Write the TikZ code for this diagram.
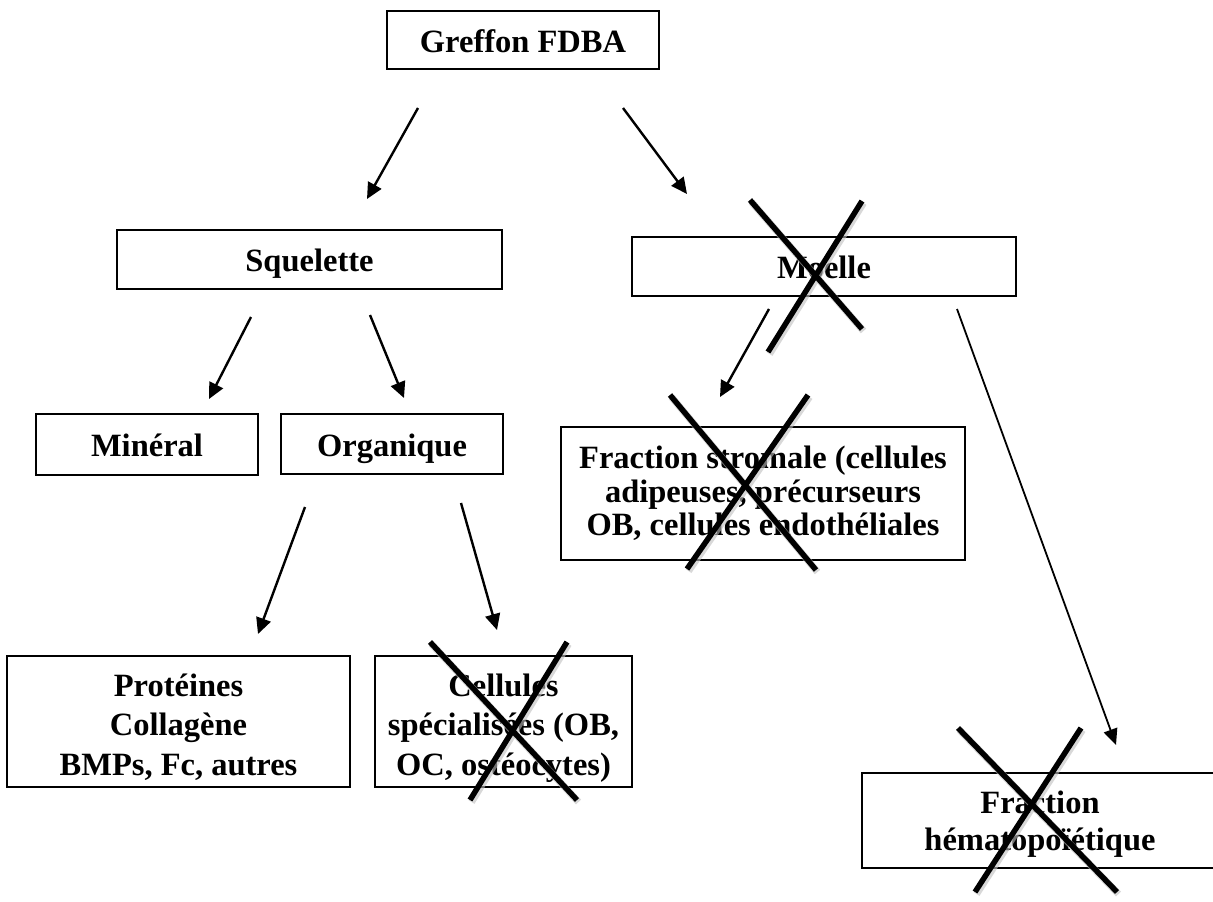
\documentclass[tikz,border=0pt]{standalone}
\usepackage{fontspec}
\setmainfont{Liberation Serif}
\usetikzlibrary{arrows.meta}
\begin{document}
\begin{tikzpicture}[x=1pt,y=-1pt,
  box/.style={draw=black, line width=2.4pt, inner sep=0pt, align=center,
    font=\fontsize{32.5}{33.5}\selectfont\bfseries},
  oneline/.style={text height=28pt, text depth=4pt},
  tallbox/.style={font=\fontsize{32.5}{39.5}\selectfont\bfseries, text height=115pt, text depth=8pt},
  hemabox/.style={font=\fontsize{32.5}{37}\selectfont\bfseries, text height=66pt, text depth=7pt},
  conn/.style={line width=2.4pt, -{Triangle[length=16pt,width=15pt]}},
  thinconn/.style={line width=1.8pt, -{Triangle[length=16pt,width=14pt]}},
  crossline/.style={line width=5.5pt, black},
  crossshadow/.style={line width=7pt, black!25, opacity=0.6}]
\useasboundingbox (0,0) rectangle (1213,902);
\fill[white] (0,0) rectangle (1213,902);

\node[box, oneline, minimum width=272pt, minimum height=58pt] (greffon) at (523,40) {Greffon FDBA};
\node[box, oneline, minimum width=385pt, minimum height=59pt] (squelette) at (309.5,259.5) {Squelette};
\node[box, oneline, minimum width=384pt, minimum height=59pt] (moelle) at (824,266.5) {Moelle};
\node[box, oneline, minimum width=222pt, minimum height=61pt] (mineral) at (147,444.5) {Minéral};
\node[box, oneline, minimum width=222pt, minimum height=60pt] (organique) at (392,444) {Organique};
\node[box, minimum width=404pt, minimum height=133pt] (stromale) at (763,493.5) {Fraction stromale (cellules\\adipeuses, précurseurs\\OB, cellules endothéliales};
\node[box, tallbox, minimum width=343pt, minimum height=131pt] (proteines) at (178.5,721.5) {Protéines\\Collagène\\BMPs, Fc, autres};
\node[box, tallbox, minimum width=257pt, minimum height=131pt] (cellules) at (503.5,721.5) {Cellules\\spécialisées (OB,\\OC, ostéocytes)};
\node[box, hemabox, minimum width=356pt, minimum height=95pt] (hemato) at (1040,820.5) {Fraction\\hématopoïétique};

% connector end points
\coordinate (g1) at (418,108);  \coordinate (s0) at (367,199);
\coordinate (g2) at (623,108);  \coordinate (m0) at (687,194);
\coordinate (s1) at (251,317);  \coordinate (mi0) at (209,399);
\coordinate (s2) at (370,315);  \coordinate (o0) at (404,398);
\coordinate (m1) at (769,309);  \coordinate (st0) at (720,397);
\coordinate (m2) at (957,309);  \coordinate (h0) at (1116,745);
\coordinate (o1) at (305,507);  \coordinate (p0) at (258,634);
\coordinate (o2) at (461,503);  \coordinate (c0) at (497,630);

\draw[conn] (g1) -- (s0);
\draw[conn] (g2) -- (m0);
\draw[conn] (s1) -- (mi0);
\draw[conn] (s2) -- (o0);
\draw[conn] (m1) -- (st0);
\draw[thinconn] (m2) -- (h0);
\draw[conn] (o1) -- (p0);
\draw[conn] (o2) -- (c0);

% crosses
\foreach \a/\b/\c/\d in {750/200/862/329, 862/201/768/352,
                         670/395/816/570, 808/395/687/569,
                         430/642/577/800, 567/642/470/800,
                         958/728/1117/892, 1081/728/975/892}{
  \draw[crossshadow] (\a+1.5,\b+2) -- (\c+1.5,\d+2);
}
\foreach \a/\b/\c/\d in {750/200/862/329, 862/201/768/352,
                         670/395/816/570, 808/395/687/569,
                         430/642/577/800, 567/642/470/800,
                         958/728/1117/892, 1081/728/975/892}{
  \draw[crossline] (\a,\b) -- (\c,\d);
}
\end{tikzpicture}
\end{document}
